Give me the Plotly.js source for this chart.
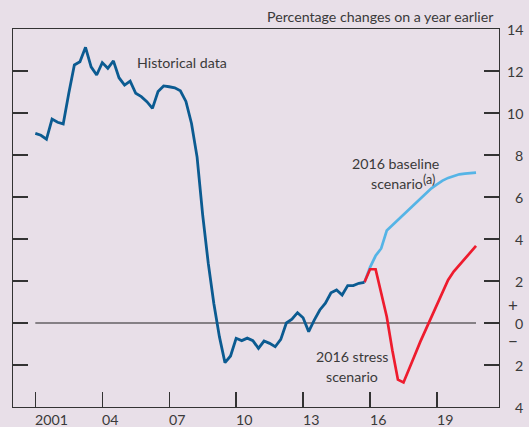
<!DOCTYPE html>
<html>
<head>
<meta charset="utf-8">
<script src="https://cdn.plot.ly/plotly-3.0.1.min.js"></script>
<style>
  html, body { margin: 0; padding: 0; background: #e8dfe8; }
  #chart { width: 529px; height: 427px; }
</style>
</head>
<body>
<div id="chart"></div>
<script>
// ---- Data (quarterly, percentage changes on a year earlier) ----
const histStart = 2001.0;          // first quarter of historical data
const histValues = [
  9.03, 8.94, 8.75, 9.71, 9.56, 9.48, 10.94, 12.29, 12.44, 13.13,
  12.2, 11.81, 12.4, 12.13, 12.48, 11.68, 11.33, 11.52, 10.94, 10.78,
  10.54, 10.22, 11.02, 11.29, 11.25, 11.2, 11.06, 10.55, 9.5, 7.9,
  5.15, 2.85, 0.93, -0.65, -1.89, -1.57, -0.73, -0.84, -0.72, -0.84,
  -1.21, -0.86, -0.97, -1.13, -0.78, 0.0, 0.18, 0.49, 0.25, -0.41,
  0.14, 0.62, 0.94, 1.44, 1.57, 1.33, 1.78, 1.78, 1.89, 1.94
];
const scenStart = 2015.75;         // scenarios start from last historical quarter
const baselineValues = [
  1.94, 2.65, 3.2, 3.55, 4.4, 4.65, 4.89, 5.15, 5.41, 5.67,
  5.93, 6.17, 6.41, 6.6, 6.78, 6.91, 7.0, 7.08, 7.11, 7.14, 7.16
];
const stressValues = [
  1.94, 2.56, 2.56, 1.45, 0.3, -1.3, -2.7, -2.83, -2.22, -1.55,
  -0.9, -0.3, 0.3, 0.9, 1.5, 2.05, 2.45, 2.75, 3.05, 3.37, 3.67
];

const xTickVals = [2001, 2004, 2007, 2010, 2013, 2016, 2019];
const xTickText = ['2001', '04', '07', '10', '13', '16', '19'];
const yTickVals = [14, 12, 10, 8, 6, 4, 2, 0, -2, -4];
const yTickText = ['14', '12', '10', '8', '6', '4', '2', '0', '2', '4'];

// ---- helpers ----
const quarters = (start, n) => Array.from({length: n}, (_, i) => start + i / 4);

const FONT = 'Lato, "Open Sans", sans-serif';
const FS = 14.2;
const TXT = '#3a3a3a';
const BG = '#e8dfe8';

const traces = [
  { x: quarters(scenStart, baselineValues.length), y: baselineValues, type: 'scatter', mode: 'lines',
    line: { color: '#55b4e6', width: 2.7 }, hoverinfo: 'skip' },
  { x: quarters(scenStart, stressValues.length), y: stressValues, type: 'scatter', mode: 'lines',
    line: { color: '#ee1c2e', width: 2.7 }, hoverinfo: 'skip' },
  { x: quarters(histStart, histValues.length), y: histValues, type: 'scatter', mode: 'lines',
    line: { color: '#0b5b91', width: 2.8 }, hoverinfo: 'skip' }
];

const annotations = [];
// x tick labels (left-aligned at the year ticks)
xTickVals.forEach((v, i) => annotations.push({
  x: v, xref: 'x', y: 0, yref: 'paper', yanchor: 'top', xanchor: 'left',
  xshift: -2, yshift: -2, text: xTickText[i], showarrow: false,
  font: { family: FONT, size: FS, color: TXT }
}));
// y tick labels on the right, right-aligned
yTickVals.forEach((v, i) => annotations.push({
  x: 1, xref: 'paper', y: v, yref: 'y', xanchor: 'right', yanchor: 'middle',
  xshift: 26, text: yTickText[i], showarrow: false,
  font: { family: FONT, size: FS, color: TXT }
}));
annotations.push({ x: 1, xref: 'paper', y: 0.85, yref: 'y', xanchor: 'center', yanchor: 'middle',
  xshift: 14, text: '+', showarrow: false, font: { family: FONT, size: 17, color: TXT } });
annotations.push({ x: 1, xref: 'paper', y: -0.85, yref: 'y', xanchor: 'center', yanchor: 'middle',
  xshift: 14, text: '\u2212', showarrow: false, font: { family: FONT, size: 17, color: TXT } });
// header
annotations.push({ x: 1, xref: 'paper', y: 1, yref: 'paper', xanchor: 'right', yanchor: 'bottom',
  xshift: -3, yshift: 2, text: 'Percentage changes on a year earlier', showarrow: false,
  font: { family: FONT, size: FS, color: TXT } });
// series labels
const lab = (x, y, t, anchor, size) => annotations.push({ x: x, y: y, xref: 'x', yref: 'y', xanchor: anchor || 'center',
  yanchor: 'middle', text: t, showarrow: false, font: { family: FONT, size: size || FS, color: TXT } });
lab(2005.45, 12.42, 'Historical data', 'left');
lab(2017.15, 7.6, '2016 baseline');
lab(2018.45, 6.65, 'scenario', 'right');
lab(2018.3, 6.85, '(a)', 'left', 12.5);
lab(2015.2, -1.6, '2016 stress');
lab(2015.2, -2.55, 'scenario');

const axisCommon = {
  showgrid: false, zeroline: false, showline: true, linecolor: '#333', linewidth: 1.3,
  ticks: 'inside', ticklen: 15, tickwidth: 1.3, tickcolor: '#333', showticklabels: false
};

const layout = {
  width: 529, height: 427,
  margin: { l: 13, r: 30, t: 29, b: 20 },
  paper_bgcolor: BG, plot_bgcolor: BG,
  showlegend: false,
  xaxis: Object.assign({}, axisCommon, { range: [2000, 2021.78], tickvals: xTickVals, mirror: true }),
  yaxis: Object.assign({}, axisCommon, { range: [-4, 14], tickvals: yTickVals, side: 'right', mirror: 'ticks' }),
  shapes: [{ type: 'line', xref: 'x', yref: 'y', x0: 2001, x1: 2020.75, y0: 0, y1: 0,
    line: { color: '#222', width: 1.2 }, layer: 'below' }],
  annotations: annotations
};

Plotly.newPlot('chart', traces, layout, { staticPlot: true, displayModeBar: false });
</script>
</body>
</html>
